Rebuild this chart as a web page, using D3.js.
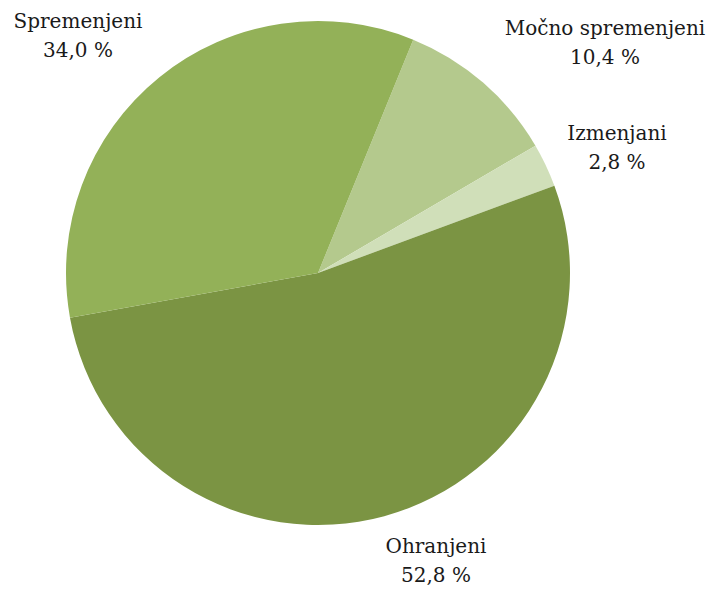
<!DOCTYPE html>
<html>
<head>
<meta charset="utf-8">
<script src="https://cdn.jsdelivr.net/npm/d3@7"></script>
<style>
  html, body { margin: 0; padding: 0; background: #ffffff; }
  svg { display: block; }
</style>
</head>
<body>
<svg id="chart" width="713" height="590"></svg>
<script>
// Slice categories and their shares (percent), in drawing order clockwise
const categories = ["Močno spremenjeni", "Izmenjani", "Ohranjeni", "Spremenjeni"];
const shares = [10.4, 2.8, 52.8, 34.0];
const valueLabels = ["10,4 %", "2,8 %", "52,8 %", "34,0 %"];

const colors = ["#b4c98d", "#d0dfb9", "#7b9443", "#93b158"];

const width = 713, height = 590;
const cx = 318, cy = 273, radius = 252;
const startOffset = 22.2 * Math.PI / 180;
const fontStack = "'DejaVu Serif', serif";

// Label anchor points (centre of each two-line label)
const labelPos = [
  [605, 35],
  [617, 140],
  [436, 553],
  [78, 28]
];

const svg = d3.select("#chart");
const g = svg.append("g").attr("transform", `translate(${cx},${cy})`);

const pie = d3.pie()
  .value(d => d)
  .sort(null)
  .startAngle(startOffset)
  .endAngle(startOffset + 2 * Math.PI);

const arc = d3.arc().innerRadius(0).outerRadius(radius);

const arcs = pie(shares);

g.selectAll("path.slice")
  .data(arcs)
  .join("path")
  .attr("class", "slice")
  .attr("d", arc)
  .attr("fill", (d, i) => colors[i]);

const labels = svg.selectAll("g.label")
  .data(arcs)
  .join("g")
  .attr("class", "label")
  .attr("transform", (d, i) => `translate(${labelPos[i][0]},${labelPos[i][1]})`);

labels.append("text")
  .attr("text-anchor", "middle")
  .attr("font-family", fontStack)
  .attr("font-size", 20)
  .attr("fill", "#1a1a1a")
  .text((d, i) => categories[i]);

labels.append("text")
  .attr("text-anchor", "middle")
  .attr("font-family", fontStack)
  .attr("font-size", 20)
  .attr("fill", "#1a1a1a")
  .attr("y", 29)
  .text((d, i) => valueLabels[i]);
</script>
</body>
</html>
